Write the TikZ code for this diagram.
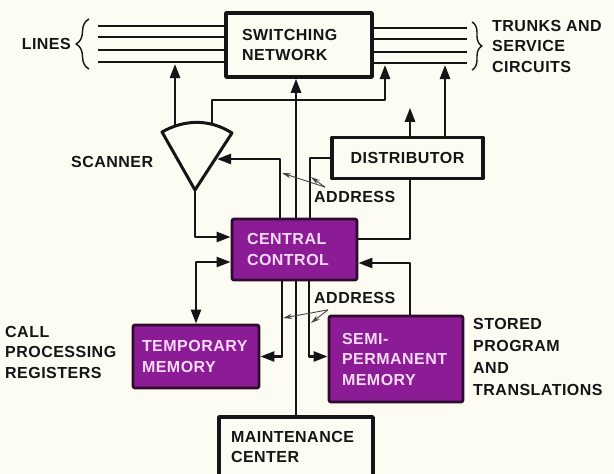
\documentclass[tikz,border=0pt]{standalone}
\usepackage{fontspec}
\setmainfont{Liberation Sans}[LetterSpace=3]
\usepackage{xcolor}
\usepackage{tikz}
\usetikzlibrary{arrows.meta,positioning,decorations.pathreplacing}

\definecolor{paper}{RGB}{252,252,242}
\definecolor{ink}{RGB}{22,20,22}
\definecolor{mempurple}{RGB}{140,28,150}
\definecolor{memedge}{RGB}{45,12,45}
\definecolor{memtext}{RGB}{246,218,246}
\newcommand{\lblfont}{\bfseries\fontsize{16}{20.5}\selectfont}

\begin{document}
\begin{tikzpicture}[x=1pt, y=-1pt, font=\lblfont, line join=round,
    wire/.style={line width=2.5pt, draw=ink},
    arw/.style={-{Triangle[length=14pt,width=10pt]}},
    dbl/.style={{Triangle[length=14pt,width=10pt]}-{Triangle[length=14pt,width=10pt]}},
    box/.style={draw=ink, line width=3.5pt, fill=paper, align=left, inner ysep=0pt, text=ink},
    membox/.style={box, line width=2.8pt, draw=memedge, fill=mempurple, text=memtext, rounded corners=2pt},
    lbl/.style={inner sep=1pt, align=left, text=ink},
    addr/.style={line width=0.9pt, draw=ink!80, -{Stealth[length=9pt,width=5pt]}}]
  \path[fill=paper, use as bounding box] (0,0) rectangle (614,474);

  % boxes
  \node[box, minimum height=64pt, text width=114pt, inner xsep=16pt] (sn) at (299,45) {SWITCHING\\NETWORK};
  \node[box, minimum width=151pt, minimum height=41pt, align=center] (dist) at (407.5,158) {DISTRIBUTOR};
  \node[membox, minimum height=61pt, text width=95pt, inner xsep=15pt] (cc) at (294.5,249.5) {CENTRAL\\CONTROL};
  \node[membox, minimum height=63pt, text width=108pt, inner xsep=9pt] (tm) at (196,356.5) {TEMPORARY\\MEMORY};
  \node[membox, minimum height=86pt, text width=108pt, inner xsep=13pt] (spm) at (396,359) {SEMI-\\PERMANENT\\MEMORY};
  \node[box, minimum height=60pt, text width=130pt, inner xsep=12pt] (mc) at (296,447) {MAINTENANCE\\CENTER};

  % scanner fan
  \coordinate (scantip) at (195,190);
  \draw[line width=3pt, draw=ink, fill=paper] (162,132) .. controls (185,119) and (210,119) .. (232,133) -- (scantip) -- cycle;
  \coordinate (scanout) at (175,126);
  \coordinate (scanfb) at (212,124);
  \coordinate (scanin) at (217,159);

  % line and trunk bundles
  \foreach \y in {26,37,50,62} {
    \coordinate (ln) at (98,\y);
    \draw[wire] (ln) -- (ln -| sn.west);
  }
  \foreach \y in {28,39,52,63} {
    \coordinate (tr) at (467,\y);
    \draw[wire] (tr -| sn.east) -- (tr);
  }
  \draw[line width=1.4pt, draw=ink, decorate, decoration={brace, amplitude=13pt}] (89,69) -- (89,19);
  \draw[line width=1.4pt, draw=ink, decorate, decoration={brace, amplitude=10pt}] (472,22) -- (472,70);
  \coordinate (lineA) at (175,64);
  \coordinate (trunkA) at (385,65);
  \coordinate (trunkB) at (445,65);

  % labels
  \node[lbl, anchor=east] (lines) at (72,44) {LINES};
  \node[lbl, anchor=west] (trunks) at (491,46) {TRUNKS AND\\SERVICE\\CIRCUITS};
  \node[lbl, anchor=west] (scanlbl) at (70,162) {SCANNER};
  \node[lbl, anchor=west] (cpr) at (4,352) {CALL\\PROCESSING\\REGISTERS};
  \node[lbl, anchor=west, font=\bfseries\fontsize{16}{22}\selectfont] (spt) at (472,357) {STORED\\PROGRAM\\AND\\TRANSLATIONS};
  \node[lbl, anchor=west] (addrup) at (313,197) {ADDRESS};
  \node[lbl, anchor=west] (addrlo) at (313,298) {ADDRESS};

  % connectors
  \draw[wire, arw] (scanout) -- (lineA);
  \draw[wire, arw] (scanfb) -- ++(0,-24) -| (trunkA);
  \draw[wire, arw] ([xshift=-14.5pt]cc.north) |- (scanin);
  \draw[wire] ([xshift=15.5pt]cc.north) |- (dist.west);
  \draw[wire] (mc.north) -- (mc.north |- cc.south);
  \draw[wire, arw] (mc.north |- cc.north) -- (mc.north |- sn.south);
  \draw[wire, arw] (scantip) |- ([yshift=12.5pt]cc.west);
  \draw[wire, dbl] ([yshift=-12.5pt]cc.west) -| (tm.north);
  \draw[wire, arw] ([xshift=-12.5pt]cc.south) |- (tm.east);
  \draw[wire, arw] ([xshift=14.5pt]cc.south) |- (tm.east -| spm.west);
  \draw[wire] ([yshift=10.5pt]cc.east) -| ([xshift=2.5pt]dist.south);
  \draw[wire, arw] ([xshift=14pt]spm.north) |- ([yshift=-13.5pt]cc.east);
  \draw[wire, arw] ([xshift=2.5pt]dist.north) -- ++(0,-28);
  \draw[wire, arw] ([xshift=37.5pt]dist.north) -- (trunkB);

  % address pointers
  \coordinate (a1) at (282,173);
  \coordinate (a2) at (311,177);
  \coordinate (a3) at (283,318);
  \coordinate (a4) at (311,323);
  \draw[addr] ([xshift=12pt,yshift=3pt]addrup.north west) -- (a1);
  \draw[addr] ([xshift=12pt,yshift=3pt]addrup.north west) -- (a2);
  \draw[addr] ([xshift=15pt,yshift=-5pt]addrlo.south west) -- (a3);
  \draw[addr] ([xshift=15pt,yshift=-5pt]addrlo.south west) -- (a4);
\end{tikzpicture}
\end{document}
